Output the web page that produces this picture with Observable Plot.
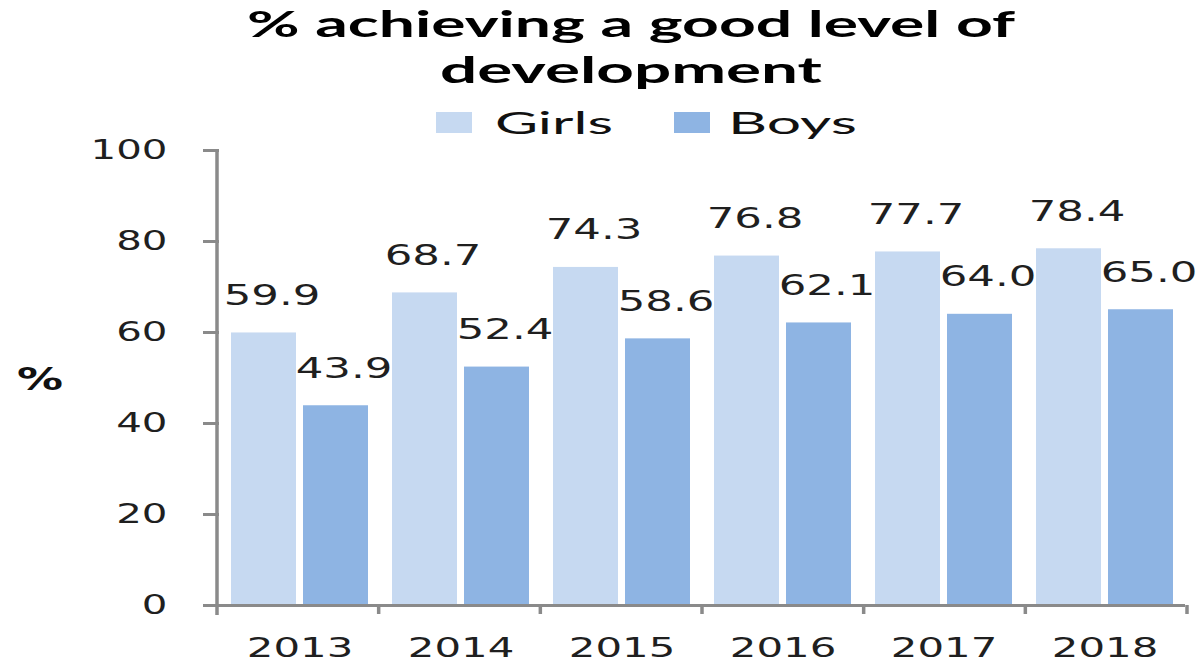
<!DOCTYPE html>
<html>
<head>
<meta charset="utf-8">
<script src="https://cdn.jsdelivr.net/npm/d3@7"></script>
<script src="https://cdn.jsdelivr.net/npm/@observablehq/plot@0.6"></script>
<style>
  body { margin: 0; background: #fff; }
  #wrap { position: relative; width: 1199px; height: 664px; overflow: hidden; background: #fff; }
  #head { position: relative; height: 140px; }
  .st { position: absolute; white-space: nowrap; line-height: 1; transform-origin: 0 0; }
  .title { font-family: Lato, "Open Sans", sans-serif; font-weight: bold; font-size: 36px; color: #000; }
  .leg { font-family: Lato, "Open Sans", sans-serif; font-size: 30px; color: #111; }
  .ylab { font-family: "DejaVu Sans", sans-serif; font-weight: bold; font-size: 32px; color: #111; }
  .sw { position: absolute; }
  #chart { position: relative; }
</style>
</head>
<body>
<div id="wrap">
  <div id="head"></div>
  <div id="chart"></div>
</div>
<script>
// ---- data ----
const years = ["2013", "2014", "2015", "2016", "2017", "2018"];
const series = ["Girls", "Boys"];
const girls = [59.9, 68.7, 74.3, 76.8, 77.7, 78.4];
const boys = [43.9, 52.4, 58.6, 62.1, 64.0, 65.0];
const colors = ["#c6d9f1", "#8eb4e3"];
const yTicks = [0, 20, 40, 60, 80, 100];
const titleLines = ["% achieving a good level of", "development"];
const yLabel = "%";

const data = years.flatMap((yr, i) => [
  {year: yr, series: series[0], value: girls[i]},
  {year: yr, series: series[1], value: boys[i]}
]);

// ---- header (title, legend, y label) ----
const head = document.getElementById("head");
function stretched(text, cls, left, top, width, parent) {
  const el = document.createElement("div");
  el.className = "st " + cls;
  el.textContent = text;
  el.style.left = left + "px";
  el.style.top = top + "px";
  (parent || head).appendChild(el);
  const w = el.getBoundingClientRect().width;
  el.style.transform = `scaleX(${width / w})`;
  return el;
}
const titleLayout = [{top: 5, width: 768}, {top: 51, width: 382}];
const titleCenter = 631;
titleLines.forEach((t, i) => {
  const L = titleLayout[i];
  stretched(t, "title", titleCenter - L.width / 2, L.top, L.width);
});
const legLayout = [{sw: 436, tx: 495, tw: 118}, {sw: 674, tx: 728, tw: 129}];
series.forEach((s, i) => {
  const L = legLayout[i];
  const sw = document.createElement("div");
  sw.className = "sw";
  Object.assign(sw.style, {left: L.sw + "px", top: "112px", width: "36px", height: "21px", background: colors[i]});
  head.appendChild(sw);
  stretched(s, "leg", L.tx, 107, L.tw);
});
stretched(yLabel, "ylab", 17, 363, 46, document.getElementById("wrap"));

// ---- chart ----
const chart = Plot.plot({
  width: 1199,
  height: 524,
  marginTop: 10,
  marginBottom: 59,
  marginLeft: 217,
  marginRight: 12,
  style: {fontFamily: "DejaVu Sans, sans-serif", color: "#1f1f1f", background: "white", overflow: "visible"},
  fx: {domain: years, padding: 0, label: null},
  x: {domain: series, paddingInner: 0.1, paddingOuter: 0.165, axis: null},
  y: {domain: [0, 100], label: null},
  color: {domain: series, range: colors},
  marks: [
    Plot.barY(data, {fx: "year", x: "series", y: "value", fill: "series"}),
    Plot.ruleY([0], {stroke: "#8a8a8a", strokeWidth: 3}),
    Plot.text(data, {fx: "year", x: "series", y: "value", text: d => d.value.toFixed(1),
      dy: -37, dx: 8, fontSize: 28, fill: "#1f1f1f"}),
    Plot.axisY({ticks: yTicks, tickSize: 16, tickPadding: 36, fontSize: 26,
      stroke: "#8a8a8a", strokeWidth: 3, fill: "#1f1f1f", label: null}),
    Plot.axisFx({anchor: "bottom", tickSize: 0, tickPadding: 32, fontSize: 27, fill: "#1f1f1f", label: null})
  ]
});
document.getElementById("chart").appendChild(chart);

// axis line and between-category ticks, positioned from Plot's own scales
const fxS = chart.scale("fx"), yS = chart.scale("y");
const r0 = Math.min(...fxS.range), r1 = Math.max(...fxS.range);
const step = (r1 - r0) / fxS.domain.length;
const yBase = Math.max(...yS.range), yTop = Math.min(...yS.range);
const svg = d3.select(chart);
const g = svg.append("g").attr("stroke", "#8a8a8a").attr("stroke-width", 3.5);
g.append("line").attr("x1", r0).attr("x2", r0).attr("y1", yTop - 1).attr("y2", yBase + 10);
d3.range(1, fxS.domain.length + 1).forEach(i => {
  const x = r0 + i * step;
  g.append("line").attr("x1", x).attr("x2", x).attr("y1", yBase).attr("y2", yBase + 9);
});

// horizontally stretched glyphs, as in the reference
chart.querySelectorAll("text").forEach(t => {
  const w = t.getComputedTextLength();
  if (w > 0) {
    t.setAttribute("textLength", w * 1.55);
    t.setAttribute("lengthAdjust", "spacingAndGlyphs");
  }
});
</script>
</body>
</html>
